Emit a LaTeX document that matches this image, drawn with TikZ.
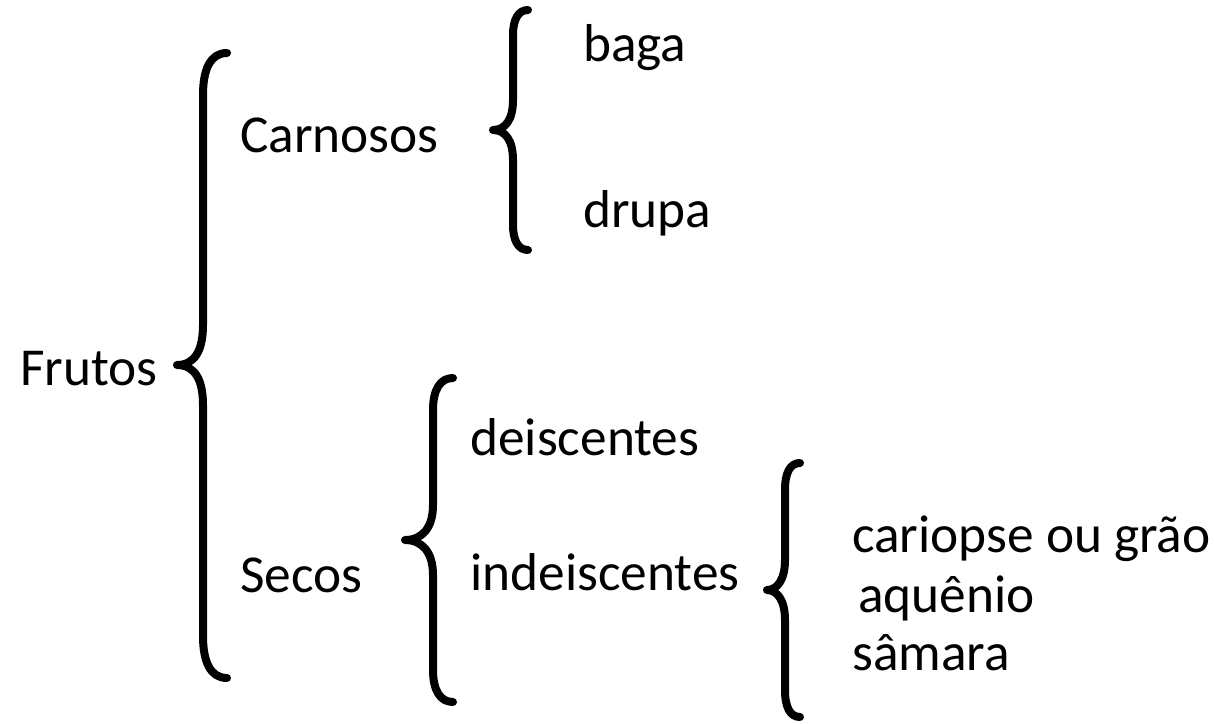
\documentclass[tikz,border=0pt]{standalone}
\usepackage{fontspec}
\setmainfont{Carlito}
\begin{document}
\begin{tikzpicture}[x=0.75pt,y=-0.75pt,
  lbl/.style={anchor=base west,inner sep=0pt,font=\fontsize{40}{48}\selectfont},
  brace/.style={line width=6pt,line cap=round,line join=round}]
\useasboundingbox (0,0) rectangle (1215,724);
% texts
\node[lbl] (frutos) at (20,385) {Frutos};
\node[lbl] (carnosos) at (240,152) {Carnosos};
\node[lbl] (secos) at (240,592) {Secos};
\node[lbl] (baga) at (583,62) {baga};
\node[lbl] (drupa) at (583,227) {drupa};
\node[lbl] (deisc) at (470,455) {deiscentes};
\node[lbl] (indeisc) at (470,590) {indeiscentes};
\node[lbl] (cariopse) at (852,552) {cariopse ou grão};
\node[lbl] (aquenio) at (858,612) {aquênio};
\node[lbl] (samara) at (852,670) {sâmara};
% braces
\draw[brace] (227,53) .. controls (210,53) and (203,70) .. (203,95) -- (203,325)
  .. controls (203,350) and (195,365) .. (177,365)
  .. controls (195,365) and (203,380) .. (203,405) -- (203,636)
  .. controls (203,661) and (210,678) .. (227,678);
\draw[brace] (528,10) .. controls (518,10) and (513,20) .. (513,35) -- (513,100)
  .. controls (513,120) and (505,130) .. (493,130)
  .. controls (505,130) and (513,140) .. (513,160) -- (513,225)
  .. controls (513,240) and (518,250) .. (528,250);
\draw[brace] (453,378) .. controls (440,378) and (433,390) .. (433,410) -- (433,505)
  .. controls (433,528) and (422,540) .. (405,540)
  .. controls (422,540) and (433,552) .. (433,575) -- (433,670)
  .. controls (433,690) and (440,702) .. (453,702);
\draw[brace] (800,463) .. controls (790,463) and (785,473) .. (785,490) -- (785,560)
  .. controls (785,580) and (777,590) .. (767,590)
  .. controls (777,590) and (785,600) .. (785,620) -- (785,690)
  .. controls (785,707) and (790,717) .. (800,717);
\end{tikzpicture}
\end{document}
